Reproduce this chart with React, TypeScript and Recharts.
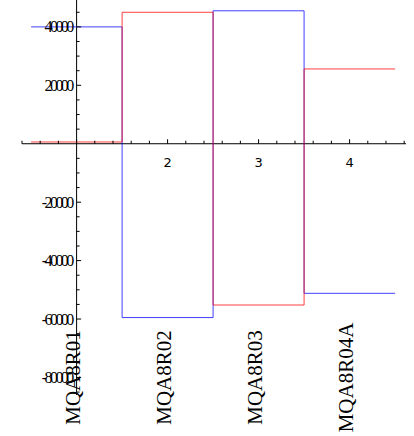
import {Line, LineChart, ReferenceDot, ReferenceLine, XAxis, YAxis} from 'recharts';

const categories = ['MQA8R01', 'MQA8R02', 'MQA8R03', 'MQA8R04A'];
const blueValues = [40000, -59500, 45500, -51200];
const redValues = [600, 45000, -55200, 25600];

const xMajorTicks = [2, 3, 4];
const yMajorTicks = [-80000, -60000, -40000, -20000, 20000, 40000];

const xDomain = [0.4, 4.62];
const yDomain = [-86000, 49200];
const axisX = 1;
const labelY = -80000;

// step edges: each value holds from i-0.5 to i+0.5
const rows = categories.map((_, i) => ({x: i + 0.5, blue: blueValues[i], red: redValues[i]}));
rows.push({
  x: categories.length + 0.5,
  blue: blueValues[blueValues.length - 1],
  red: redValues[redValues.length - 1],
});

const xMinorTicks: number[] = [];
for (let k = 2; k <= 23; k++) xMinorTicks.push(Math.round(k * 2) / 10);
const yMinorTicks: number[] = [];
for (let v = -85000; v <= 45000; v += 5000) if (v !== 0) yMinorTicks.push(v);

const serif = '"Liberation Serif", "Times New Roman", serif';
const sans = '"DejaVu Sans", sans-serif';

export default function App() {
  return (
    <div style={{position: 'absolute', left: 0, top: 0, background: '#fff'}}>
      <LineChart width={414} height={436} data={rows} margin={{top: 0, right: 8, bottom: 41, left: 22}}>
        <XAxis dataKey="x" type="number" domain={xDomain} allowDataOverflow hide />
        <YAxis type="number" domain={yDomain} allowDataOverflow hide />
        <ReferenceLine y={0} stroke="#000" strokeWidth={1} ifOverflow="visible" />
        <ReferenceLine x={axisX} stroke="#000" strokeWidth={1} ifOverflow="visible" />
        {xMinorTicks.map((t) => {
          const major = Math.abs(t - Math.round(t)) < 1e-6;
          return (
            <ReferenceDot
              key={'xt' + t}
              x={t}
              y={0}
              r={0}
              shape={(p: any) => (
                <line x1={p.cx} x2={p.cx} y1={p.cy} y2={p.cy - (major ? 4.5 : 3)} stroke="#000" strokeWidth={1} />
              )}
            />
          );
        })}
        {xMajorTicks.map((t) => (
          <ReferenceDot
            key={'xl' + t}
            x={t}
            y={0}
            r={0}
            shape={(p: any) => (
              <text x={p.cx} y={p.cy + 23} textAnchor="middle" fontFamily={sans} fontSize={13} fill="#000">
                {t}
              </text>
            )}
          />
        ))}
        {yMinorTicks.map((t) => (
          <ReferenceDot
            key={'yt' + t}
            x={axisX}
            y={t}
            r={0}
            shape={(p: any) => (
              <line x1={p.cx} x2={p.cx + (t % 20000 === 0 ? 4.5 : 3)} y1={p.cy} y2={p.cy} stroke="#000" strokeWidth={1} />
            )}
          />
        ))}
        {yMajorTicks.map((t) => (
          <ReferenceDot
            key={'yl' + t}
            x={axisX}
            y={t}
            r={0}
            shape={(p: any) => (
              <text
                x={p.cx - 5}
                y={p.cy + 5.5}
                textAnchor="end"
                fontFamily={serif}
                fontSize={16}
                letterSpacing={-2.6}
                fill="#000"
              >
                {t}
              </text>
            )}
          />
        ))}
        <Line
          dataKey="blue"
          type="stepAfter"
          stroke="#0000ff"
          strokeOpacity={0.75}
          strokeWidth={1}
          dot={false}
          isAnimationActive={false}
        />
        <Line
          dataKey="red"
          type="stepAfter"
          stroke="#ff0000"
          strokeOpacity={0.75}
          strokeWidth={1}
          dot={false}
          isAnimationActive={false}
        />
        {categories.map((c, i) => (
          <ReferenceDot
            key={c}
            x={i + 1}
            y={labelY}
            r={0}
            shape={(p: any) => (
              <text
                transform={`translate(${p.cx},${p.cy}) rotate(-90)`}
                x={0}
                y={3}
                textAnchor="middle"
                fontFamily={serif}
                fontSize={21}
                fill="#000"
              >
                {c}
              </text>
            )}
          />
        ))}
      </LineChart>
    </div>
  );
}
